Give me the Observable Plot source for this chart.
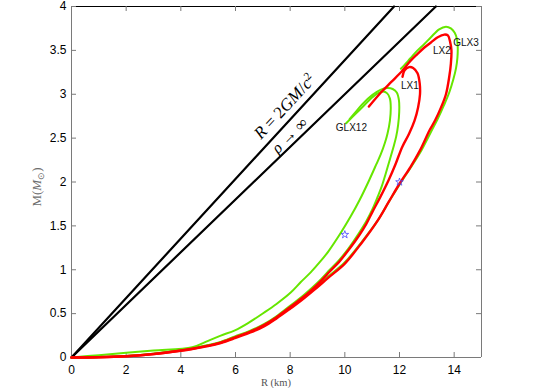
<!DOCTYPE html>
<html><head><meta charset="utf-8">
<script src="https://cdn.jsdelivr.net/npm/d3@7"></script>
<script src="https://cdn.jsdelivr.net/npm/@observablehq/plot@0.6"></script>
<style>body{margin:0;background:#fff}svg{display:block}</style>
</head><body><div id="chart"></div>
<script>
const xTicks = [0, 2, 4, 6, 8, 10, 12, 14];
const yTicks = [0, 0.5, 1, 1.5, 2, 2.5, 3, 3.5, 4];

// limit lines (R, M) endpoints
const schwarzR = [0, 11.8];
const schwarzM = [0, 4];
const buchR = [0, 13.33];
const buchM = [0, 4];

// GLX12 (two green curves)
const glx12aR = [0, 1, 2, 3, 4.42, 5.0, 5.46, 5.98, 6.5, 7.04, 7.5, 8.02, 8.39, 8.75, 9.12, 9.4, 9.83, 10.2, 10.55, 10.89, 11.15, 11.32, 11.47, 11.56, 11.65, 11.68, 11.65, 11.55, 11.4, 11.2, 10.95, 10.6, 10.3, 10.05];
const glx12aM = [0, 0.027, 0.053, 0.08, 0.117, 0.19, 0.25, 0.31, 0.4, 0.51, 0.61, 0.74, 0.86, 0.97, 1.1, 1.21, 1.41, 1.6, 1.8, 2.02, 2.2, 2.32, 2.45, 2.55, 2.7, 2.85, 2.95, 3.01, 3.03, 3.01, 2.95, 2.84, 2.75, 2.67];
const glx12bR = [0, 1, 2, 3, 4, 4.42, 5.0, 5.46, 5.98, 6.5, 7.04, 7.5, 8.02, 8.4, 8.75, 9.12, 9.45, 9.79, 10.15, 10.5, 10.78, 11.01, 11.2, 11.35, 11.5, 11.65, 11.78, 11.88, 11.95, 11.99, 11.98, 11.9, 11.75, 11.55, 11.3, 11.0, 10.65, 10.4, 10.18];
const glx12bM = [0, 0.005, 0.018, 0.044, 0.085, 0.106, 0.142, 0.178, 0.24, 0.3, 0.38, 0.47, 0.595, 0.685, 0.78, 0.89, 1.0, 1.11, 1.25, 1.41, 1.55, 1.69, 1.83, 1.95, 2.1, 2.26, 2.4, 2.52, 2.65, 2.8, 2.93, 3.02, 3.06, 3.07, 3.05, 2.99, 2.89, 2.8, 2.72];
// GLX3 (green)
const glx3R = [0, 1, 2, 3, 4, 4.42, 5.0, 5.46, 5.98, 6.5, 7.04, 7.5, 8.02, 8.39, 8.88, 9.4, 10.0, 10.6, 11.2, 11.6, 12.0, 12.4, 12.8, 13.15, 13.4, 13.62, 13.82, 13.97, 14.07, 14.12, 14.13, 14.1, 14.02, 13.88, 13.7, 13.45, 13.15, 12.9, 12.66, 12.4, 12.2, 12.05];
const glx3M = [0, 0.005, 0.018, 0.043, 0.083, 0.104, 0.138, 0.175, 0.232, 0.293, 0.37, 0.46, 0.575, 0.66, 0.785, 0.925, 1.085, 1.31, 1.56, 1.77, 1.97, 2.16, 2.36, 2.57, 2.72, 2.87, 3.02, 3.17, 3.3, 3.42, 3.54, 3.63, 3.7, 3.75, 3.77, 3.74, 3.65, 3.57, 3.5, 3.41, 3.34, 3.29];
// LX1 (red)
const lx1R = [0, 1, 2, 3, 4, 4.42, 5.0, 5.46, 5.98, 6.5, 7.04, 7.5, 8.02, 8.4, 8.75, 9.12, 9.45, 9.79, 10.15, 10.52, 10.78, 11.01, 11.3, 11.6, 11.85, 12.1, 12.35, 12.55, 12.68, 12.75, 12.74, 12.66, 12.5, 12.35, 12.18, 12.11];
const lx1M = [0, 0.003, 0.015, 0.04, 0.08, 0.1, 0.135, 0.17, 0.23, 0.29, 0.37, 0.46, 0.58, 0.67, 0.76, 0.87, 0.98, 1.09, 1.23, 1.39, 1.52, 1.66, 1.83, 2.02, 2.2, 2.4, 2.55, 2.7, 2.85, 3.0, 3.12, 3.24, 3.3, 3.31, 3.27, 3.2];
// LX2 (red)
const lx2R = [0, 1, 2, 3, 4, 4.42, 5.0, 5.46, 5.98, 6.5, 7.04, 7.5, 8.02, 8.39, 8.88, 9.4, 10.0, 10.6, 11.2, 11.6, 12.0, 12.4, 12.75, 13.1, 13.3, 13.52, 13.7, 13.82, 13.88, 13.9, 13.85, 13.77, 13.64, 13.4, 13.15, 12.9, 12.66, 12.4, 12.11, 11.7, 11.32, 10.88];
const lx2M = [0, 0.003, 0.014, 0.038, 0.077, 0.097, 0.13, 0.165, 0.22, 0.28, 0.355, 0.445, 0.56, 0.645, 0.77, 0.91, 1.07, 1.3, 1.56, 1.77, 1.98, 2.17, 2.36, 2.59, 2.7, 2.85, 3.0, 3.2, 3.35, 3.5, 3.6, 3.67, 3.68, 3.65, 3.59, 3.53, 3.46, 3.38, 3.27, 3.14, 3.02, 2.86];

// star markers
const starR = [10, 12];
const starM = [1.4, 2.0];

// curve labels
const labelText = ["GLX12", "LX1", "LX2", "GLX3"];
const labelR = [10.24, 12.38, 13.55, 14.43];
const labelM = [2.62, 3.10, 3.49, 3.59];

// diagonal annotations
const annoText = ["R = 2GM/c2", "ρ → ∞"];
const annoR = [7.8, 7.98];
const annoM = [2.86, 2.53];

const GREEN = "#66e600";
const RED = "#ff0000";
const GRAY = "#7a7a7a";

const pts = (R, M) => R.map((r, i) => ({R: r, M: M[i]}));
const curve = (R, M, color, w) => Plot.line(pts(R, M), {x: "R", y: "M", stroke: color, strokeWidth: w, curve: "catmull-rom"});

const W = 545, H = 388, mL = 71, mR = 64, mT = 6, mB = 31;
const fw = W - mL - mR, fh = H - mT - mB;

const chart = Plot.plot({
  width: W, height: H,
  marginLeft: mL, marginRight: mR, marginTop: mT, marginBottom: mB,
  style: {background: "#fff", fontFamily: "Liberation Sans, Arial, sans-serif"},
  x: {domain: [0, 15]},
  y: {domain: [0, 4]},
  marks: [
    Plot.ruleX([0], {stroke: GRAY}),
    Plot.ruleX([15], {stroke: GRAY}),
    Plot.ruleY([0], {stroke: GRAY}),
    Plot.ruleY([4], {stroke: "#000"}),
    Plot.tickX(xTicks, {x: d => d, insetTop: fh - 5, stroke: GRAY}),
    Plot.tickX(xTicks, {x: d => d, insetBottom: fh - 5, stroke: GRAY}),
    Plot.tickY(yTicks, {y: d => d, insetRight: fw - 5, stroke: GRAY}),
    Plot.tickY(yTicks, {y: d => d, insetLeft: fw - 5, stroke: GRAY}),
    Plot.axisX({anchor: "bottom", ticks: xTicks, tickSize: 0, tickPadding: 8, fontSize: 12, label: null, tickFormat: d => `${d}`}),
    Plot.axisY({anchor: "left", ticks: yTicks, tickSize: 0, tickPadding: 5, fontSize: 12, label: null, tickFormat: d => `${d}`}),
    Plot.line(pts(schwarzR, schwarzM), {x: "R", y: "M", stroke: "#000", strokeWidth: 2.2}),
    Plot.line(pts(buchR, buchM), {x: "R", y: "M", stroke: "#000", strokeWidth: 2.2}),
    curve(glx12aR, glx12aM, GREEN, 2),
    curve(glx12bR, glx12bM, GREEN, 2),
    curve(glx3R, glx3M, GREEN, 2),
    curve(lx1R, lx1M, RED, 2.4),
    curve(lx2R, lx2M, RED, 2.4),
    Plot.dot(pts(starR, starM), {x: "R", y: "M", symbol: "star", r: 2.4, stroke: "#4a4aff", fill: "none", strokeWidth: 0.8}),
    Plot.text(labelText, {x: labelR, y: labelM, text: d => d, fontSize: 10, fill: "#111"}),
    Plot.text([annoText[0]], {x: [annoR[0]], y: [annoM[0]], text: d => d, rotate: -47, fontSize: 17, fontFamily: "Liberation Serif"}),
    Plot.text([annoText[1]], {x: [annoR[1]], y: [annoM[1]], text: d => d, rotate: -45, fontSize: 16, fontFamily: "Liberation Serif"})
  ]
});

const s = d3.select(chart);
const byText = str => s.selectAll("text").filter(function () { return this.textContent === str; });
// rich annotation text
const t1 = byText(annoText[0]);
t1.text(null);
t1.append("tspan").attr("font-style", "italic").text("R");
t1.append("tspan").text(" = 2");
t1.append("tspan").attr("font-style", "italic").text("GM");
t1.append("tspan").text("/");
t1.append("tspan").attr("font-style", "italic").text("c");
t1.append("tspan").attr("font-size", 11).attr("dy", "-0.55em").text("2");
const t2 = byText(annoText[1]);
t2.text(null);
t2.append("tspan").attr("font-style", "italic").text("ρ");
t2.append("tspan").text(" → ∞");

// axis labels
const yl = s.append("text")
  .attr("transform", "translate(41,187) rotate(-90)")
  .attr("text-anchor", "middle")
  .attr("font-family", "Liberation Serif")
  .attr("font-size", 13)
  .attr("fill", "#6e6e6e");
yl.append("tspan").text("M(");
yl.append("tspan").attr("font-style", "italic").text("M");
yl.append("tspan").attr("font-size", 9).attr("dy", 3).text("⊙");
yl.append("tspan").attr("dy", -3).text(")");

s.append("text")
  .attr("x", mL + fw / 2).attr("y", 386)
  .attr("text-anchor", "middle")
  .attr("font-family", "Liberation Serif")
  .attr("font-size", 10.5)
  .attr("fill", "#555")
  .text("R (km)");

document.getElementById("chart").appendChild(chart);
</script>
</body></html>
